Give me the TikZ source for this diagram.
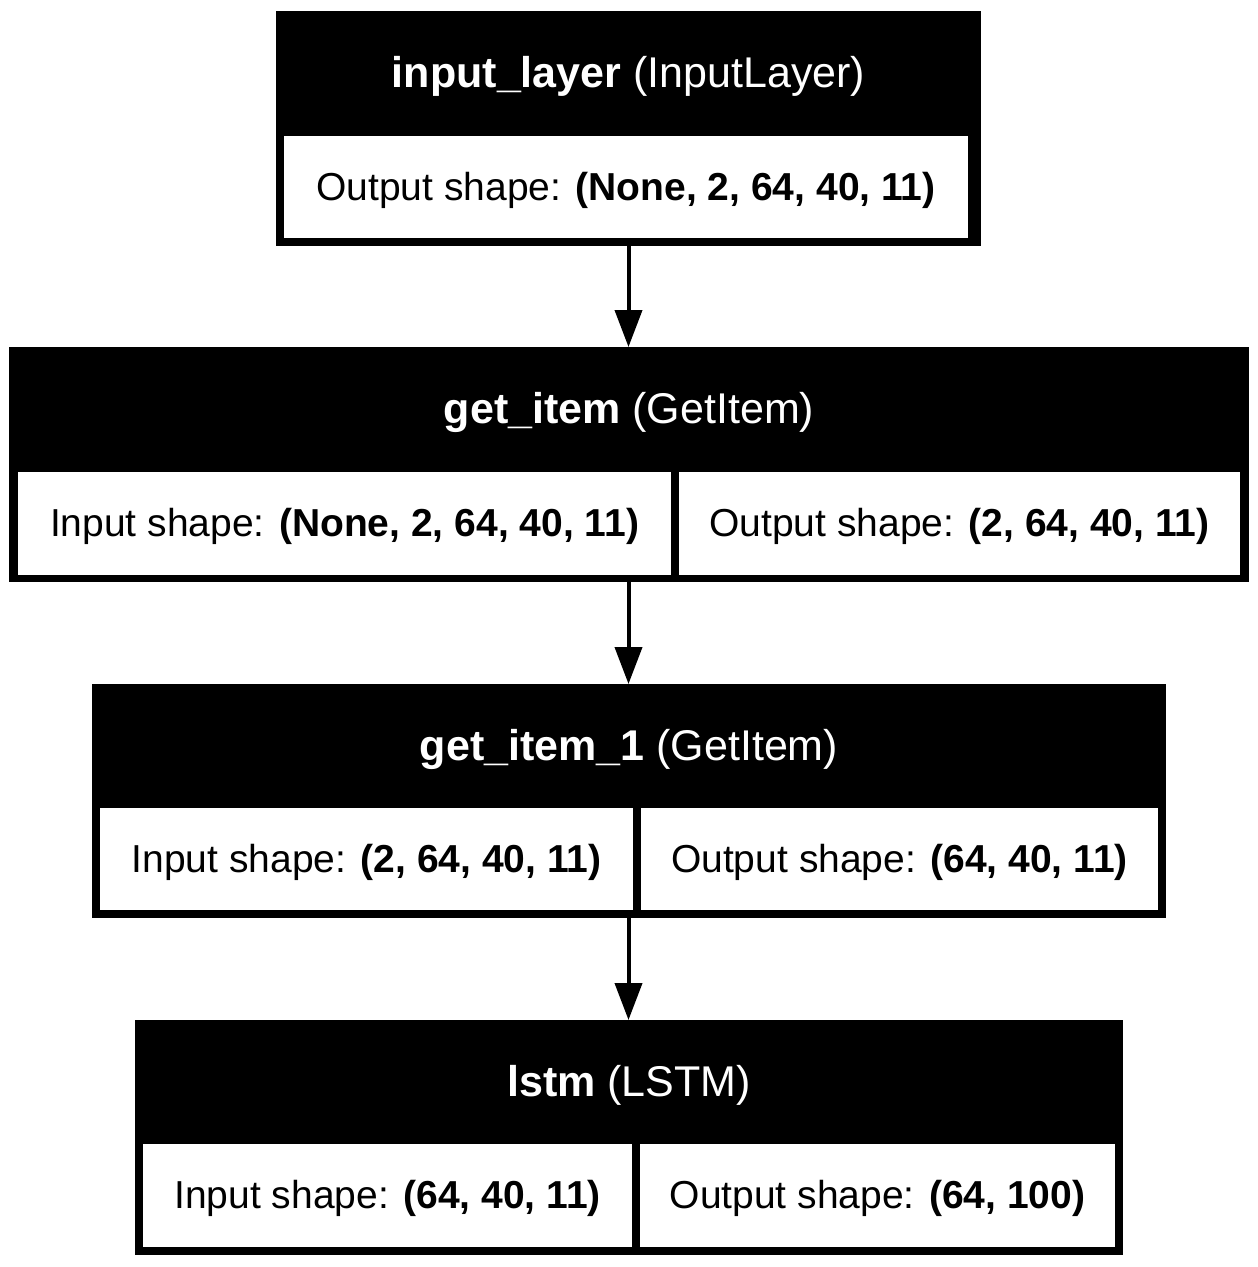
\documentclass[tikz,border=0pt]{standalone}
\usepackage{fontspec}
\setmainfont{Liberation Sans}
\usetikzlibrary{arrows.meta}
\tikzset{
  layerbox/.style={fill=black, draw=none, inner sep=0pt, outer sep=0pt, anchor=north west},
  cellbox/.style={fill=white, draw=none, inner sep=0pt, outer sep=0pt, anchor=north west},
  titletext/.style={text=white, inner sep=0pt, anchor=base, font=\fontsize{43}{50}\selectfont},
  bodytext/.style={text=black, inner sep=0pt, anchor=base, font=\fontsize{39}{46}\selectfont},
  flow/.style={line width=4pt, -{Triangle[length=37pt,width=27pt]}}
}
\begin{document}
\begin{tikzpicture}[x=1pt,y=-1pt]
\useasboundingbox[fill=white] (0,0) rectangle (1258,1267);
% layer 1
\node[layerbox, minimum width=705pt, minimum height=235pt] (b1) at (276,11) {};
\node[cellbox, minimum width=684pt, minimum height=102pt] (c1) at (284,136) {};
\node[titletext] (t1) at ([yshift=-76pt]b1.north) {\textbf{input\_layer} (InputLayer)};
\node[bodytext] (s1) at ([yshift=-64pt]c1.north) {Output shape: \textbf{(None, 2, 64, 40, 11)}};
% layer 2
\node[layerbox, minimum width=1240pt, minimum height=235pt] (b2) at (9,347) {};
\node[cellbox, minimum width=653pt, minimum height=103pt] (c2a) at (18,472) {};
\node[cellbox, minimum width=561pt, minimum height=103pt] (c2b) at (679,472) {};
\node[titletext] (t2) at ([yshift=-76pt]b2.north) {\textbf{get\_item} (GetItem)};
\node[bodytext] (s2a) at ([yshift=-64pt]c2a.north) {Input shape: \textbf{(None, 2, 64, 40, 11)}};
\node[bodytext] (s2b) at ([yshift=-64pt]c2b.north) {Output shape: \textbf{(2, 64, 40, 11)}};
% layer 3
\node[layerbox, minimum width=1074pt, minimum height=234pt] (b3) at (92,684) {};
\node[cellbox, minimum width=533pt, minimum height=102pt] (c3a) at (100,808) {};
\node[cellbox, minimum width=517pt, minimum height=102pt] (c3b) at (641,808) {};
\node[titletext] (t3) at ([yshift=-76pt]b3.north) {\textbf{get\_item\_1} (GetItem)};
\node[bodytext] (s3a) at ([yshift=-64pt]c3a.north) {Input shape: \textbf{(2, 64, 40, 11)}};
\node[bodytext] (s3b) at ([yshift=-64pt]c3b.north) {Output shape: \textbf{(64, 40, 11)}};
% layer 4
\node[layerbox, minimum width=988pt, minimum height=235pt] (b4) at (135,1020) {};
\node[cellbox, minimum width=489pt, minimum height=103pt] (c4a) at (143,1144) {};
\node[cellbox, minimum width=475pt, minimum height=103pt] (c4b) at (640,1144) {};
\node[titletext] (t4) at ([yshift=-76pt]b4.north) {\textbf{lstm} (LSTM)};
\node[bodytext] (s4a) at ([yshift=-64pt]c4a.north) {Input shape: \textbf{(64, 40, 11)}};
\node[bodytext] (s4b) at ([yshift=-64pt]c4b.north) {Output shape: \textbf{(64, 100)}};
% connectors
\draw[flow] (b1.south) -- (b1.south |- b2.north);
\draw[flow] (b1.south |- b2.south) -- (b1.south |- b3.north);
\draw[flow] (b1.south |- b3.south) -- (b1.south |- b4.north);
\end{tikzpicture}
\end{document}
